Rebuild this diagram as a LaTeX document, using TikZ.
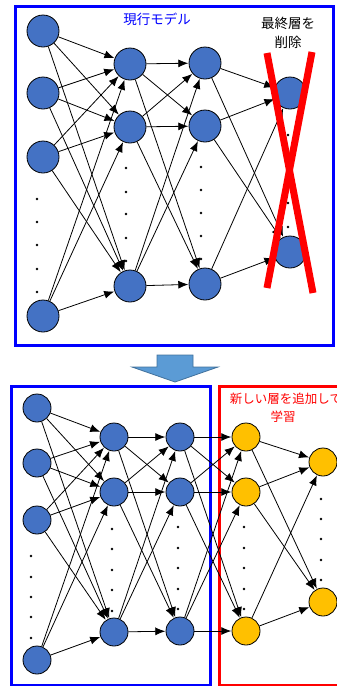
\documentclass[tikz,border=0pt]{standalone}
\usepackage{fontspec}
\newfontfamily\cjk{Noto Sans CJK JP}
\usetikzlibrary{arrows.meta}
\definecolor{nblue}{HTML}{4472C4}
\definecolor{nyellow}{HTML}{FFC000}
\definecolor{arrfill}{HTML}{5B9BD5}
\definecolor{arrdraw}{HTML}{41719C}
\begin{document}
\begin{tikzpicture}[x=1pt,y=-1pt,
  neuronA/.style={circle,draw=black,line width=0.8pt,minimum size=32pt,inner sep=0pt,fill=nblue},
  neuronB/.style={circle,draw=black,line width=0.8pt,minimum size=28pt,inner sep=0pt,fill=nblue},
  neuronY/.style={neuronB,fill=nyellow},
  conn/.style={-{Latex[length=10pt,width=8pt]},line width=0.8pt,shorten >=0.3pt},
  dotmark/.style={circle,fill=black,inner sep=0pt,minimum size=2.8pt},
  frame/.style={line width=3pt},
  lbl/.style={font=\cjk\fontsize{13.5}{15}\selectfont,inner sep=0pt}]
\useasboundingbox (0,0) rectangle (337,686);

% ---------- top panel ----------
\node[draw=blue,frame,minimum width=318pt,minimum height=339pt,inner sep=0pt] (topbox) at (174,175.5) {};
\node[lbl,text=blue] (tlabel) at (157,19) {現行モデル};
\node[lbl,text=black] (dl1) at (288,23) {最終層を};
\node[lbl,text=black] (dl2) at (288,42) {削除};

\foreach \y [count=\i] in {31,93,157,316} \node[neuronA] (t1-\i) at (43,\y) {};
\foreach \y [count=\i] in {64,127,286} \node[neuronA] (t2-\i) at (130,\y) {};
\foreach \y [count=\i] in {63,126,284} \node[neuronA] (t3-\i) at (205,\y) {};
\foreach \y [count=\i] in {93,252} \node[neuronA] (t4-\i) at (290,\y) {};

\foreach \y [count=\i] in {199,222,245,269,292} \node[dotmark] (td1-\i) at (37,\y) {};
\foreach \y [count=\i] in {168,192,214,238,261} \node[dotmark] (td2-\i) at (126,\y) {};
\foreach \y [count=\i] in {167,190,213,236,259} \node[dotmark] (td3-\i) at (201,\y) {};
\foreach \y [count=\i] in {135,158,181,203,227} \node[dotmark] (td4-\i) at (288,\y) {};

\foreach \i in {1,...,4} \foreach \j in {1,...,3} \draw[conn] (t1-\i) -- (t2-\j);
\foreach \i in {1,...,3} \foreach \j in {1,...,3} \draw[conn] (t2-\i) -- (t3-\j);
\foreach \i in {1,...,3} \foreach \j in {1,...,2} \draw[conn] (t3-\i) -- (t4-\j);

% red cross
\draw[red,line width=7pt] (267,53) -- (313,293);
\draw[red,line width=7pt] (312,52) -- (267,288);

% ---------- down arrow ----------
\draw[fill=arrfill,draw=arrdraw,line width=0.8pt] (157,355) -- (193,355) -- (193,367) -- (218,367) -- (175,382) -- (132,367) -- (157,367) -- cycle;

% ---------- bottom panel ----------
\node[draw=blue,frame,minimum width=199pt,minimum height=299pt,inner sep=0pt] (oldbox) at (110.5,535.5) {};
\node[draw=red,frame,minimum width=126pt,minimum height=299pt,inner sep=0pt] (newbox) at (282,535.5) {};
\node[lbl,text=red,font=\cjk\fontsize{12.5}{15}\selectfont] (nl1) at (286,399) {新しい層を追加して};
\node[lbl,text=red,font=\cjk\fontsize{12.5}{15}\selectfont] (nl2) at (283,417) {学習};

\foreach \y [count=\i] in {408,463,520,660} \node[neuronB] (b1-\i) at (37,\y) {};
\foreach \y [count=\i] in {437,492,632} \node[neuronB] (b2-\i) at (114,\y) {};
\foreach \y [count=\i] in {437,492,631} \node[neuronB] (b3-\i) at (180,\y) {};
\foreach \y [count=\i] in {437,492,631} \node[neuronY] (b4-\i) at (246,\y) {};
\foreach \y [count=\i] in {462,602} \node[neuronY] (b5-\i) at (323,\y) {};

\foreach \y [count=\i] in {556,577,597,617,638} \node[dotmark] (bd1-\i) at (31,\y) {};
\foreach \y [count=\i] in {529,549,570,590,611} \node[dotmark] (bd2-\i) at (112,\y) {};
\foreach \y [count=\i] in {527,548,568,589,609} \node[dotmark] (bd3-\i) at (178,\y) {};
\foreach \y [count=\i] in {527,548,568,589,609} \node[dotmark] (bd4-\i) at (244,\y) {};
\foreach \y [count=\i] in {499,519,539,560,580} \node[dotmark] (bd5-\i) at (321,\y) {};

\foreach \i in {1,...,4} \foreach \j in {1,...,3} \draw[conn] (b1-\i) -- (b2-\j);
\foreach \i in {1,...,3} \foreach \j in {1,...,3} \draw[conn] (b2-\i) -- (b3-\j);
\foreach \i in {1,...,3} \foreach \j in {1,...,3} \draw[conn] (b3-\i) -- (b4-\j);
\foreach \i in {1,...,3} \foreach \j in {1,...,2} \draw[conn] (b4-\i) -- (b5-\j);
\end{tikzpicture}
\end{document}
